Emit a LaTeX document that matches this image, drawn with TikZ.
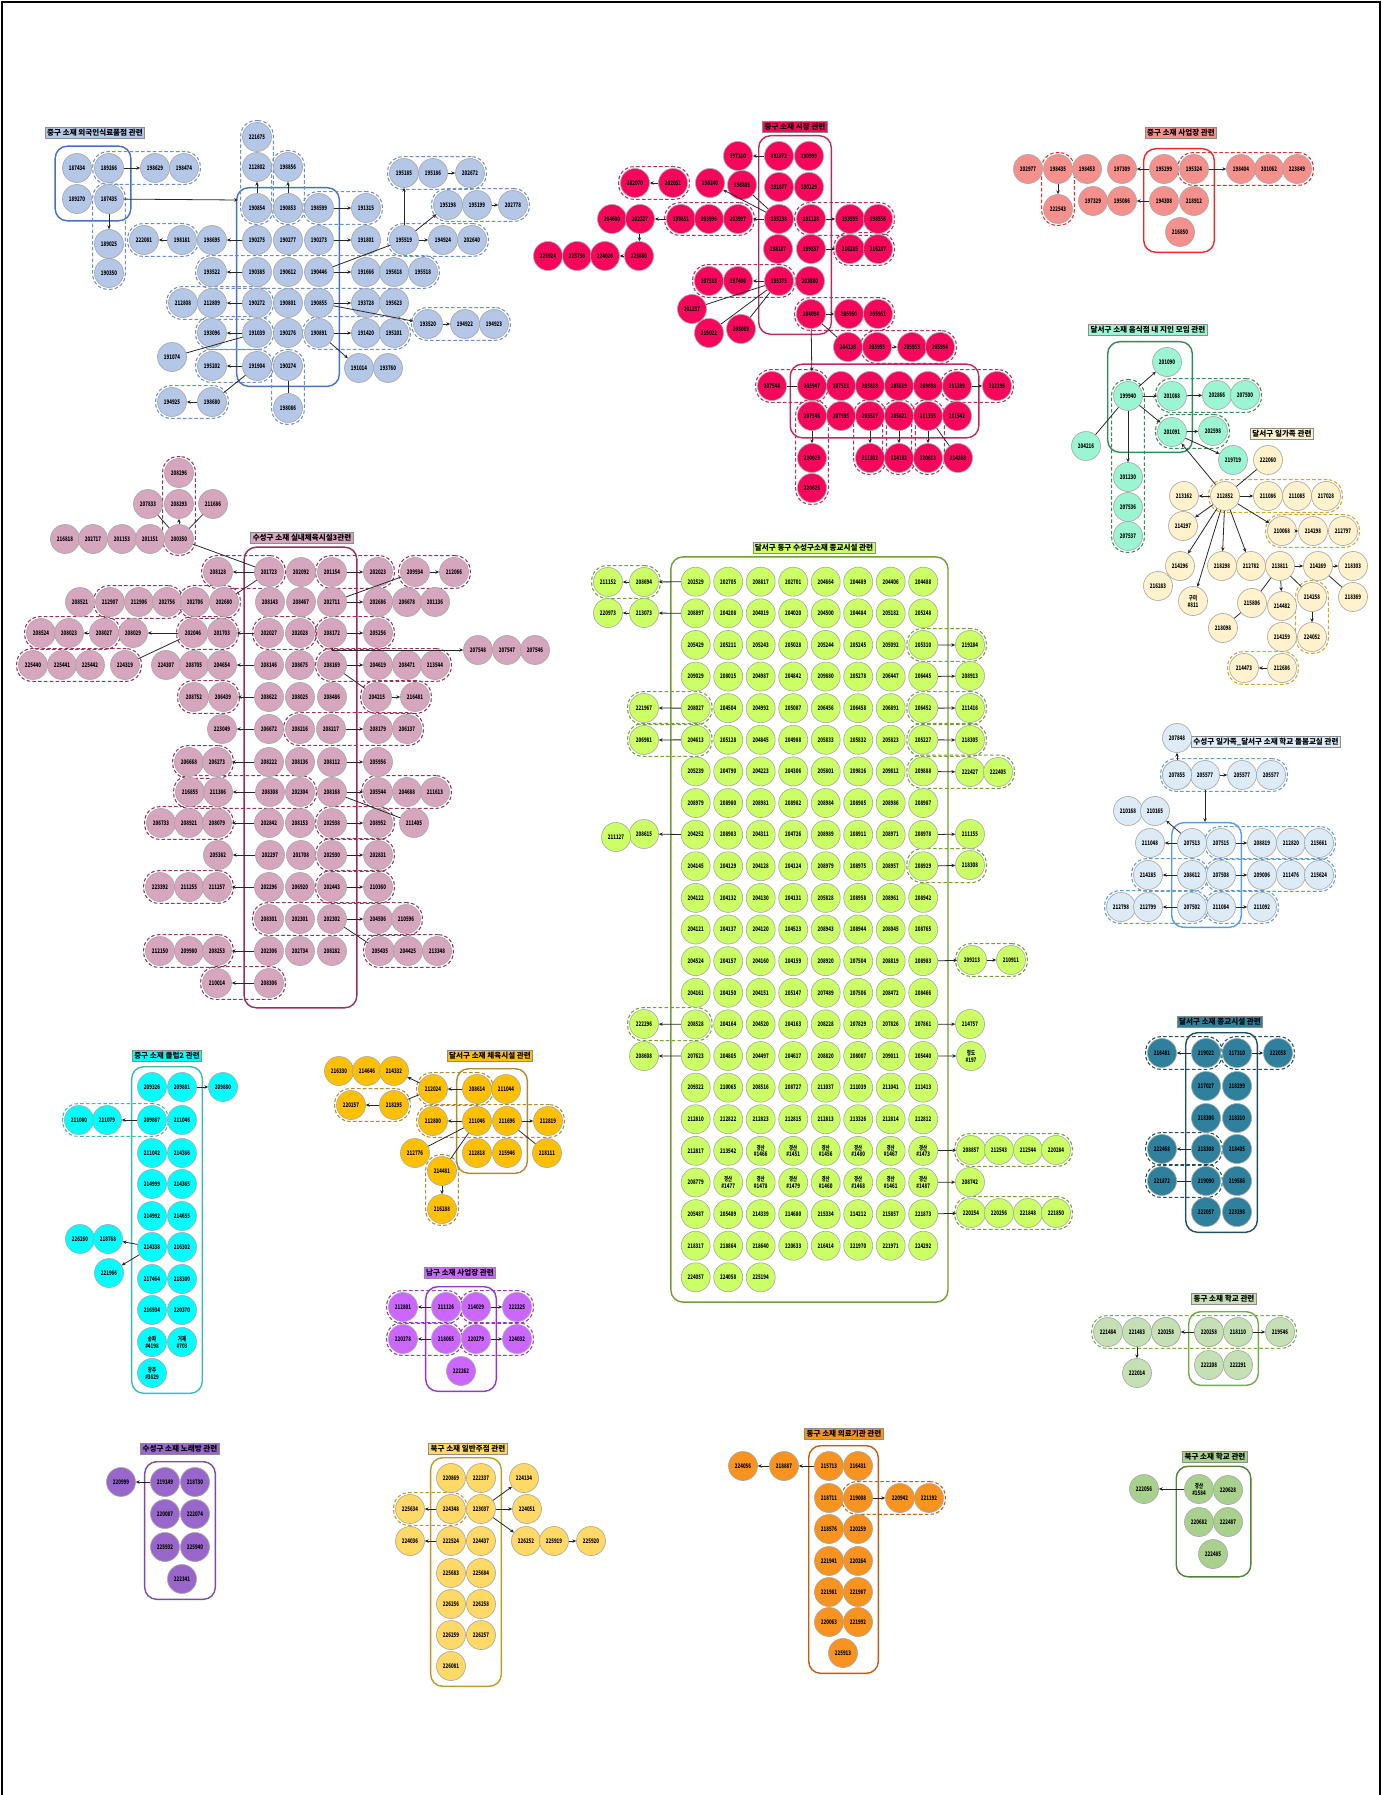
\documentclass[tikz,border=0pt]{standalone}
\usepackage{fontspec}
\usepackage{tikz}
\usetikzlibrary{arrows.meta, positioning, fit, backgrounds}
\setmainfont{Noto Sans CJK KR}
\newfontfamily\krfont{Noto Sans CJK KR}
\newfontfamily\nodefont[FakeStretch=0.7]{Noto Sans CJK KR}
\definecolor{cBlue}{HTML}{B4C7E7}
\definecolor{cBlueD}{HTML}{4472C4}
\definecolor{cRed}{HTML}{F5075C}
\definecolor{cRedD}{HTML}{C02860}
\definecolor{cSalm}{HTML}{F4918C}
\definecolor{cSalmD}{HTML}{F02828}
\definecolor{cAqua}{HTML}{9CF5D2}
\definecolor{cAquaD}{HTML}{2E8B57}
\definecolor{cFam}{HTML}{FFF2CC}
\definecolor{cFamD}{HTML}{D6A520}
\definecolor{cMauve}{HTML}{D5A6BD}
\definecolor{cMauveD}{HTML}{9B2D5E}
\definecolor{cLime}{HTML}{CCFF66}
\definecolor{cLimeD}{HTML}{70A030}
\definecolor{cSky}{HTML}{DDEBF7}
\definecolor{cSkyD}{HTML}{5B9BD5}
\definecolor{cTeal}{HTML}{2E809C}
\definecolor{cTealD}{HTML}{1F4E5F}
\definecolor{cCyan}{HTML}{00FFFF}
\definecolor{cCyanD}{HTML}{3CB8B8}
\definecolor{cGold}{HTML}{FFC000}
\definecolor{cGoldD}{HTML}{B08A30}
\definecolor{cViol}{HTML}{CC66FF}
\definecolor{cViolD}{HTML}{9933CC}
\definecolor{cMint}{HTML}{C5E0B4}
\definecolor{cMintD}{HTML}{70AD47}
\definecolor{cPlum}{HTML}{9966CC}
\definecolor{cPlumD}{HTML}{7A4BA8}
\definecolor{cButter}{HTML}{FFD966}
\definecolor{cButterD}{HTML}{C09A20}
\definecolor{cOrng}{HTML}{F7931E}
\definecolor{cOrngD}{HTML}{C55A11}
\definecolor{cLeaf}{HTML}{A9D18E}
\definecolor{cLeafD}{HTML}{548235}
\newcommand\gsan[1]{경산\\\##1}
\tikzset{
  cnode/.style={
    circle, draw=black!35, line width=0.35pt, minimum size=5.8mm, inner sep=0pt,
    align=center, font=\nodefont\bfseries\fontsize{3.6}{3.9}\selectfont
  },
  bnode/.style={cnode, fill=cBlue},
  rnode/.style={cnode, fill=cRed},
  snode/.style={cnode, fill=cSalm},
  anode/.style={cnode, fill=cAqua},
  fnode/.style={cnode, fill=cFam},
  mnode/.style={cnode, fill=cMauve},
  gnode/.style={cnode, fill=cLime},
  lnode/.style={cnode, fill=cSky},
  tnode/.style={cnode, fill=cTeal},
  cynode/.style={cnode, fill=cCyan},
  onode/.style={cnode, fill=cGold},
  pnode/.style={cnode, fill=cViol},
  hnode/.style={cnode, fill=cMint},
  nnode/.style={cnode, fill=cLeaf},
  knode/.style={cnode, fill=cPlum},
  jnode/.style={cnode, fill=cButter},
  qnode/.style={cnode, fill=cOrng},
  grpbox/.style={draw, rounded corners=2.4mm, line width=0.8pt, inner sep=1.1mm},
  dashgrp/.style={draw, dash pattern=on 2pt off 1.3pt, rounded corners=3mm, line width=0.6pt, inner sep=0.3mm},
  lnk/.style={-{Stealth[length=2.2pt,width=2pt]}, line width=0.45pt, black!85},
  tie/.style={line width=0.45pt, black!85},
  ttl/.style={draw=black!45, line width=0.4pt, inner sep=1.1pt, font=\krfont\bfseries\fontsize{4.3}{4.7}\selectfont}
}
\begin{document}
\begin{tikzpicture}[x=0.2mm, y=-0.2mm]
\useasboundingbox (0,0) rectangle (1382,1795);
\draw[line width=0.9pt] (2,1795) -- (2,2) -- (1380,2) -- (1380,1795);

% ---- 중구 소재 외국인식료품점
\node[ttl, fill=cBlue] (bT) at (95,133) {중구 소재 외국인식료품점 관련};
\foreach \x/\lab in {77/187434,109/189266,155/198629,184/198474} \node[bnode] (b\lab) at (\x,168) {\lab};
\foreach \x/\lab in {77/189270,109/187435} \node[bnode] (b\lab) at (\x,199) {\lab};
\node[bnode] (b189025) at (109,244) {189025};
\node[bnode] (b190350) at (109,273) {190350};
\node[bnode] (b221675) at (257,137) {221675};
\foreach \x/\lab in {257/212802,288/198856} \node[bnode] (b\lab) at (\x,167) {\lab};
\foreach \x/\lab in {404/195185,433/195186,470/202672} \node[bnode] (b\lab) at (\x,173) {\lab};
\foreach \x/\lab in {448/195198,477/195199,513/202778} \node[bnode] (b\lab) at (\x,205) {\lab};
\foreach \x/\lab in {257/190854,288/190853,319/198599,366/191315} \node[bnode] (b\lab) at (\x,208) {\lab};
\foreach \x/\lab in {144/222081,182/198181,212/198695,257/190275,288/190277,319/190273,366/191801,404/195519,443/194924,472/202640} \node[bnode] (b\lab) at (\x,240) {\lab};
\foreach \x/\lab in {212/193522,257/190385,288/190612,319/190446,366/191666,394/195618,423/195518} \node[bnode] (b\lab) at (\x,272) {\lab};
\foreach \x/\lab in {183/212808,212/212809,257/190272,288/190801,319/190855,366/193728,394/195623} \node[bnode] (b\lab) at (\x,303) {\lab};
\foreach \x/\lab in {428/193520,465/194922,494/194923} \node[bnode] (b\lab) at (\x,324) {\lab};
\foreach \x/\lab in {212/193096,257/191039,288/190276,319/190891,366/191420,394/195201} \node[bnode] (b\lab) at (\x,333) {\lab};
\node[bnode] (b191074) at (172,357) {191074};
\foreach \x/\lab in {212/195202,257/191904,288/190274} \node[bnode] (b\lab) at (\x,366) {\lab};
\foreach \x/\lab in {359/191014,388/193760} \node[bnode] (b\lab) at (\x,368) {\lab};
\foreach \x/\lab in {172/194925,212/198680} \node[bnode] (b\lab) at (\x,402) {\lab};
\node[bnode] (b198086) at (288,408) {198086};
\coordinate (bIn) at (238,200);
\draw[lnk] (b189266) -- (b198629);
\draw[lnk] (b187435) -- (bIn);
\draw[lnk] (b187435) -- (b189025);
\draw[lnk] (b190854) -- (b212802);
\draw[lnk] (b190853) -- (b198856);
\draw[lnk] (b198599) -- (b191315);
\draw[lnk] (b195186) -- (b202672);
\draw[lnk] (b195519) -- (b195185);
\draw[lnk] (b195519) -- (b195198);
\draw[lnk] (b195199) -- (b202778);
\draw[lnk] (b195519) -- (b194924);
\draw[lnk] (b198181) -- (b222081);
\draw[lnk] (b190275) -- (b198695);
\draw[lnk] (b190273) -- (b191801);
\draw[lnk] (b190385) -- (b193522);
\draw[lnk] (b190446) -- (b191666);
\draw[tie] (b190446) -- (b195519);
\draw[lnk] (b190272) -- (b212809);
\draw[lnk] (b190855) -- (b193728);
\draw[lnk] (b190855) -- (b193520);
\draw[lnk] (b193520) -- (b194922);
\draw[lnk] (b191039) -- (b193096);
\draw[tie] (b191039) -- (b191074);
\draw[lnk] (b190891) -- (b191420);
\draw[lnk] (b190891) -- (b191014);
\draw[lnk] (b191904) -- (b195202);
\draw[tie] (b191904) -- (b198680);
\draw[tie] (b190274) -- (b198086);
\draw[lnk] (b198680) -- (b194925);

% ---- 중구 소재 시장
\node[ttl, fill=cRed] (rT) at (795,127) {중구 소재 시장 관련};
\foreach \x/\lab in {738/197310,779/191872,809/190999} \node[rnode] (r\lab) at (\x,156) {\lab};
\foreach \x/\lab in {635/202070,673/202051,710/196240} \node[rnode] (r\lab) at (\x,183) {\lab};
\node[rnode] (r196805) at (742,185) {196805};
\foreach \x/\lab in {779/191877,809/190129} \node[rnode] (r\lab) at (\x,187) {\lab};
\foreach \x/\lab in {612/204600,640/202327,681/199851,709/203996,738/203997,779/195238,811/191128,850/193595,878/198556} \node[rnode] (r\lab) at (\x,219) {\lab};
\foreach \x/\lab in {778/198187,811/199857,850/216285,878/216287} \node[rnode] (r\lab) at (\x,249) {\lab};
\foreach \x/\lab in {548/225924,577/225756,605/224026,639/225880} \node[rnode] (r\lab) at (\x,256) {\lab};
\foreach \x/\lab in {709/207518,738/197406,779/195375,810/203880} \node[rnode] (r\lab) at (\x,281) {\lab};
\node[rnode] (r201237) at (692,309) {201237};
\node[rnode] (r215022) at (709,333) {215022};
\node[rnode] (r208089) at (741,329) {208089};
\foreach \x/\lab in {811/204094,849/205950,878/205951} \node[rnode] (r\lab) at (\x,314) {\lab};
\foreach \x/\lab in {848/204136,877/205955,912/205953,940/205954} \node[rnode] (r\lab) at (\x,347) {\lab};
\foreach \x/\lab in {772/207544,812/205947,841/207512,870/205818,899/205619,928/209698,957/211389,997/222296} \node[rnode] (r\lab) at (\x,386) {\lab};
\foreach \x/\lab in {812/207546,841/207595,870/205517,899/205621,928/211335,957/211542} \node[rnode] (r\lab) at (\x,416) {\lab};
\foreach \x/\lab in {812/220623,870/211302,899/214182,928/220613,958/214268} \node[rnode] (r\lab) at (\x,458) {\lab};
\node[rnode] (r220625) at (812,488) {220625};
\draw[lnk] (r191872) -- (r197310);
\draw[lnk] (r202051) -- (r202070);
\draw[lnk] (r195238) -- (r196240);
\draw[tie] (r196805) -- (r195238);
\draw[lnk] (r195238) -- (r203997);
\draw[lnk] (r199851) -- (r202327);
\draw[lnk] (r202327) -- (r225880);
\draw[lnk] (r225880) -- (r224026);
\draw[lnk] (r191128) -- (r193595);
\draw[lnk] (r199857) -- (r216285);
\draw[lnk] (r195375) -- (r197406);
\draw[tie] (r195375) -- (r201237);
\draw[tie] (r195375) -- (r215022);
\draw[tie] (r195375) -- (r208089);
\draw[lnk] (r204094) -- (r205950);
\draw[tie] (r204094) -- (r204136);
\draw[lnk] (r205955) -- (r205953);
\draw[lnk] (r204094) -- (r205947);
\draw[tie] (r207544) -- (r205947);
\draw[lnk] (r211389) -- (r222296);
\draw[lnk] (r207546) -- (r220623);
\draw[lnk] (r205517) -- (r211302);
\draw[lnk] (r205621) -- (r214182);
\draw[lnk] (r211335) -- (r220613);
\draw[tie] (r211335) -- (r214268);

% ---- 중구 소재 사업장
\node[ttl, fill=cSalm] (sT) at (1181,133) {중구 소재 사업장 관련};
\foreach \x/\lab in {1028/202977,1058/198435,1087/198453,1122/197309,1164/195299,1194/195324,1241/198404,1269/201062,1297/223849} \node[snode] (s\lab) at (\x,169) {\lab};
\foreach \x/\lab in {1093/197329,1122/195086,1164/194308,1194/218912} \node[snode] (s\lab) at (\x,201) {\lab};
\node[snode] (s222543) at (1058,209) {222543};
\node[snode] (s216850) at (1180,232) {216850};
\draw[lnk] (s195299) -- (s197309);
\draw[lnk] (s198435) -- (s222543);
\draw[lnk] (s195324) -- (s198404);
\draw[lnk] (s194308) -- (s195086);

% ---- 달서구 소재 음식점 내 지인 모임
\node[ttl, fill=cAqua] (aT) at (1148,330) {달서구 소재 음식점 내 지인 모임 관련};
\node[anode] (a201090) at (1167,362) {201090};
\node[anode] (a199940) at (1128,396) {199940};
\node[anode] (a201088) at (1172,396) {201088};
\node[anode] (a202866) at (1217,395) {202866};
\node[anode] (a207500) at (1245,395) {207500};
\node[anode] (a201091) at (1172,432) {201091};
\node[anode] (a202598) at (1213,431) {202598};
\node[anode] (a204216) at (1086,446) {204216};
\node[anode] (a219719) at (1233,460) {219719};
\node[anode] (a201230) at (1128,477) {201230};
\node[anode] (a207536) at (1128,507) {207536};
\node[anode] (a207537) at (1128,536) {207537};
\draw[lnk] (a199940) -- (a201090);
\draw[lnk] (a199940) -- (a201088);
\draw[lnk] (a199940) -- (a201091);
\draw[tie] (a199940) -- (a204216);
\draw[lnk] (a199940) -- (a201230);
\draw[lnk] (a201088) -- (a202866);
\draw[lnk] (a201091) -- (a202598);
\draw[lnk] (a201091) -- (a219719);

% ---- 달서구 일가족
\node[ttl, fill=cFam] (fT) at (1282,434) {달서구 일가족 관련};
\node[fnode] (f222060) at (1268,460) {222060};
\foreach \x/\lab in {1184/213162,1225/212852,1268/211086,1297/211085,1326/217028} \node[fnode] (f\lab) at (\x,496) {\lab};
\node[fnode] (f214297) at (1183,526) {214297};
\foreach \x/\lab in {1282/210068,1313/214298,1343/212797} \node[fnode] (f\lab) at (\x,531) {\lab};
\foreach \x/\lab in {1180/214296,1222/218298,1251/212782,1280/213811,1318/214269,1353/218303} \node[fnode] (f\lab) at (\x,566) {\lab};
\node[fnode] (f216283) at (1158,586) {216283};
\node[fnode] (fgumi) at (1193,601) {구미\\\#811};
\node[fnode] (f215806) at (1252,603) {215806};
\node[fnode] (f214482) at (1282,606) {214482};
\node[fnode] (f214258) at (1312,597) {214258};
\node[fnode] (f218369) at (1353,597) {218369};
\node[fnode] (f218098) at (1223,628) {218098};
\node[fnode] (f214259) at (1282,637) {214259};
\node[fnode] (f224052) at (1312,637) {224052};
\node[fnode] (f214473) at (1244,668) {214473};
\node[fnode] (f212686) at (1282,668) {212686};
\draw[lnk] (f212852) -- (a201091);
\draw[lnk] (f212852) -- (f213162);
\draw[lnk] (f212852) -- (f211086);
\draw[tie] (f212852) -- (f222060);
\draw[lnk] (f212852) -- (f214297);
\draw[lnk] (f212852) -- (f210068);
\draw[lnk] (f212852) -- (f214296);
\draw[lnk] (f212852) -- (fgumi);
\draw[lnk] (f212852) -- (f218298);
\draw[lnk] (f212852) -- (f212782);
\draw[lnk] (f210068) -- (f214298);
\draw[lnk] (f213811) -- (f214269);
\draw[lnk] (f214269) -- (f218303);
\draw[tie] (f214269) -- (f218369);
\draw[tie] (f213811) -- (f215806);
\draw[lnk] (f213811) -- (f214482);
\draw[tie] (f213811) -- (f214258);
\draw[tie] (f215806) -- (f218098);
\draw[lnk] (f214258) -- (f224052);
\draw[lnk] (f212686) -- (f214473);

% ---- 수성구 소재 실내체육시설3
\node[ttl, fill=cMauve] (mT) at (302,538) {수성구 소재 실내체육시설3관련};
\node[mnode] (m208296) at (179,473) {208296};
\foreach \x/\lab in {148/207833,179/208293,213/211686} \node[mnode] (m\lab) at (\x,504) {\lab};
\foreach \x/\lab in {65/216818,93/202717,122/201153,150/201151,179/200350} \node[mnode] (m\lab) at (\x,539) {\lab};
\foreach \x/\lab in {218/208128,269/201723,301/202092,332/201154,378/202023,415/209934,454/212066} \node[mnode] (m\lab) at (\x,572) {\lab};
\foreach \x/\lab in {80/208521,110/212907,139/212906,167/202756,195/202706,224/202680,270/208143,301/208467,332/202711,378/202686,407/206678,435/201136} \node[mnode] (m\lab) at (\x,602) {\lab};
\foreach \x/\lab in {41/208524,69/208023,104/208027,133/208029,193/202046,222/201703,269/202027,300/202028,332/208172,378/205256} \node[mnode] (m\lab) at (\x,633) {\lab};
\foreach \x/\lab in {478/207548,507/207547,535/207546} \node[mnode] (m\lab) at (\x,650) {\lab};
\foreach \x/\lab in {33/225440,62/225441,90/225442,125/224319,166/224307,194/208705,222/204654,269/208146,300/208675,332/208169,378/204619,407/208471,435/213544} \node[mnode] (m\lab) at (\x,665) {\lab};
\foreach \x/\lab in {194/208752,223/206439,269/208622,300/208025,332/208486,377/204215,415/216481} \node[mnode] (m\lab) at (\x,697) {\lab};
\foreach \x/\lab in {222/223049,269/206672,300/208216,331/208217,378/208179,407/206137} \node[mnode] (m\lab) at (\x,729) {\lab};
\foreach \x/\lab in {189/206668,217/206273,269/208222,300/208136,332/208112,378/205956} \node[mnode] (m\lab) at (\x,762) {\lab};
\foreach \x/\lab in {190/216855,218/211386,270/208308,300/202304,332/208168,378/205544,407/204688,435/211613} \node[mnode] (m\lab) at (\x,792) {\lab};
\foreach \x/\lab in {161/206733,189/208921,217/208079,269/202842,300/208153,332/202938,378/208952,414/211405} \node[mnode] (m\lab) at (\x,823) {\lab};
\foreach \x/\lab in {218/205382,270/202297,301/201708,332/202930,378/202831} \node[mnode] (m\lab) at (\x,855) {\lab};
\foreach \x/\lab in {160/223392,189/211255,217/211257,269/202296,300/206920,332/202443,378/210360} \node[mnode] (m\lab) at (\x,887) {\lab};
\foreach \x/\lab in {269/208301,300/202301,332/202302,378/204506,406/210596} \node[mnode] (m\lab) at (\x,919) {\lab};
\foreach \x/\lab in {160/212150,189/209980,217/208253,269/202306,300/202734,332/208282,380/205435,408/204425,437/213348} \node[mnode] (m\lab) at (\x,951) {\lab};
\foreach \x/\lab in {217/210014,269/208306} \node[mnode] (m\lab) at (\x,983) {\lab};
\draw[tie] (m200350) -- (m207833);
\draw[lnk] (m200350) -- (m208293);
\draw[tie] (m200350) -- (m211686);
\draw[tie] (m200350) -- (m201723);
\draw[lnk] (m201723) -- (m208128);
\draw[tie] (m201723) -- (m202680);
\draw[lnk] (m201154) -- (m202023);
\draw[lnk] (m209934) -- (m212066);
\draw[lnk] (m202711) -- (m202686);
\draw[tie] (m202711) -- (m209934);
\draw[lnk] (m208027) -- (m208023);
\draw[lnk] (m202046) -- (m208029);
\draw[tie] (m202046) -- (m224319);
\draw[lnk] (m202027) -- (m201703);
\draw[lnk] (m208172) -- (m205256);
\draw[lnk] (m208172) |- (m207548);
\draw[lnk] (m208146) -- (m204654);
\draw[lnk] (m208169) -- (m204619);
\draw[tie] (m208169) -- (m204215);
\draw[lnk] (m204215) -- (m216481);
\draw[lnk] (m208622) -- (m206439);
\draw[lnk] (m206672) -- (m223049);
\draw[lnk] (m208217) -- (m208179);
\draw[lnk] (m208222) -- (m206273);
\draw[lnk] (m208112) -- (m205956);
\draw[lnk] (m208308) -- (m211386);
\draw[lnk] (m208168) -- (m205544);
\draw[tie] (m208168) -- (m211405);
\draw[lnk] (m202842) -- (m208079);
\draw[lnk] (m202938) -- (m208952);
\draw[lnk] (m202297) -- (m205382);
\draw[lnk] (m202930) -- (m202831);
\draw[lnk] (m202296) -- (m211257);
\draw[lnk] (m202443) -- (m210360);
\draw[lnk] (m202302) -- (m204506);
\draw[tie] (m202302) -- (m205435);
\draw[lnk] (m202306) -- (m208253);
\draw[lnk] (m208306) -- (m210014);

% ---- 달서구 동구 수성구소재 종교시설
\node[ttl, fill=cLime] (gT) at (814,548) {달서구 동구 수성구소재 종교시설 관련};
\foreach \lbls [count=\ri] in {
  {202529,202705,208817,202701,204664,204489,204406,204488},
  {208897,204208,204019,204020,204500,204484,205182,205248},
  {205429,205211,205243,205028,205244,205245,205092,205310},
  {209029,208015,204987,204842,209880,205278,206447,206445},
  {208027,204504,204992,205087,206456,206458,206891,206452},
  {204613,205128,204845,204988,205833,205832,205823,205227},
  {205239,204790,204223,204306,205801,209816,209812,209888},
  {208979,208980,208981,208982,208984,208985,208986,208987},
  {204252,208983,204311,204726,208989,208911,208971,208978},
  {204145,204129,204128,204124,208979,208975,208957,208929},
  {204122,204132,204130,204131,205828,208958,208961,208942},
  {204121,204137,204120,204523,208943,208944,208045,208765},
  {204524,204157,204160,204159,208920,207504,208819,208983},
  {204161,204150,204151,205147,207489,207506,208472,208466},
  {208528,204164,204520,204163,208228,207829,207826,207861},
  {207623,204805,204497,204617,208820,208007,209011,205440},
  {209322,210065,208516,208727,211037,211039,211041,211413},
  {212810,212822,212823,212815,212813,213326,212814,212812},
  {212817,213542,\gsan{1466},\gsan{1451},\gsan{1456},\gsan{1480},\gsan{1467},\gsan{1473}},
  {208779,\gsan{1477},\gsan{1478},\gsan{1479},\gsan{1460},\gsan{1468},\gsan{1461},\gsan{1487}},
  {205487,205489,214339,214680,215334,214212,215857,221873},
  {218317,218864,218640,220633,216414,221970,221971,224292},
  {224057,224058,225194}}
  \foreach \lab [count=\ci] in \lbls
    \node[gnode] (g\ri-\ci) at ({663.2+32.5*\ci},{550.08+31.62*\ri}) {\lab};
\foreach \y/\lab in {582/211152,613/220973} \node[gnode] (g\lab) at (608,\y) {\lab};
\foreach \y/\lab in {582/208694,613/213073,708/221967,740/206981,834/208615,1024/222296,1056/208608} \node[gnode] (g\lab) at (644,\y) {\lab};
\node[gnode] (g211127) at (616,837) {211127};
\foreach \y/\lab in {645/219284,676/208913,708/211416,740/218305,772/222427,834/211155,865/218308,1024/214757,1182/208742} \node[gnode] (g\lab) at (970,\y) {\lab};
\node[gnode] (g222405) at (998,772) {222405};
\node[gnode] (g209213) at (972,960) {209213};
\node[gnode] (g210911) at (1011,960) {210911};
\node[gnode] (gcheongdo) at (971,1056) {청도\\\#197};
\foreach \x/\lab in {971/208857,999/212543,1028/212544,1056/220284} \node[gnode] (g\lab) at (\x,1150) {\lab};
\foreach \x/\lab in {971/220254,999/220256,1028/221848,1056/221850} \node[gnode] (g\lab) at (\x,1213) {\lab};
\draw[lnk] (g1-1) -- (g208694);
\draw[lnk] (g208694) -- (g211152);
\draw[lnk] (g2-1) -- (g213073);
\draw[lnk] (g213073) -- (g220973);
\draw[lnk] (g5-1) -- (g221967);
\draw[lnk] (g6-1) -- (g206981);
\draw[lnk] (g9-1) -- (g208615);
\draw[lnk] (g15-1) -- (g222296);
\draw[lnk] (g16-1) -- (g208608);
\draw[lnk] (g3-8) -- (g219284);
\draw[lnk] (g4-8) -- (g208913);
\draw[lnk] (g5-8) -- (g211416);
\draw[lnk] (g6-8) -- (g218305);
\draw[lnk] (g7-8) -- (g222427);
\draw[lnk] (g9-8) -- (g211155);
\draw[lnk] (g10-8) -- (g218308);
\draw[lnk] (g13-8) -- (g209213);
\draw[lnk] (g209213) -- (g210911);
\draw[lnk] (g15-8) -- (g214757);
\draw[lnk] (g16-8) -- (gcheongdo);
\draw[lnk] (g19-8) -- (g208857);
\draw[lnk] (g20-8) -- (g208742);
\draw[lnk] (g21-8) -- (g220254);

% ---- 수성구 일가족_달서구 소재 학교 돌봄교실
\node[ttl, fill=cSky] (lT) at (1266,742) {수성구 일가족\_달서구 소재 학교 돌봄교실 관련};
\node[lnode] (l207848) at (1177,738) {207848};
\foreach \x/\lab in {1177/207855,1205/205577a,1242/205577b,1271/205577c} \node[lnode] (l\lab) at (\x,775) {205577};
\node[lnode] at (l207855) {207855};
\foreach \x/\lab in {1128/210168,1155/210165} \node[lnode] (l\lab) at (\x,811) {\lab};
\foreach \x/\lab in {1150/211048,1192/207513,1221/207515,1262/208819,1291/212820,1319/215661} \node[lnode] (l\lab) at (\x,843) {\lab};
\foreach \x/\lab in {1148/214285,1192/208612,1221/207508,1262/209006,1291/211476,1319/215624} \node[lnode] (l\lab) at (\x,875) {\lab};
\foreach \x/\lab in {1121/212798,1148/212799,1192/207502,1221/211084,1262/211092} \node[lnode] (l\lab) at (\x,907) {\lab};
\coordinate (lIn) at (1205,822);
\draw[lnk] (l207855) -- (l207848);
\draw[lnk] (l205577a) -- (l205577b);
\draw[lnk] (l205577a) -- (lIn);
\draw[lnk] (l207513) -- (l210165);
\draw[lnk] (l207513) -- (l211048);
\draw[lnk] (l207515) -- (l208819);
\draw[lnk] (l208612) -- (l214285);
\draw[lnk] (l207508) -- (l209006);
\draw[lnk] (l207502) -- (l212799);
\draw[lnk] (l211084) -- (l211092);

% ---- 달서구 소재 종교시설
\node[ttl, fill=cTeal] (tT) at (1220,1022) {달서구 소재 종교시설 관련};
\foreach \x/\lab in {1162/216481,1206/219022,1237/217310,1278/222058} \node[tnode] (t\lab) at (\x,1053) {\lab};
\foreach \x/\lab in {1206/217027,1237/218299} \node[tnode] (t\lab) at (\x,1086) {\lab};
\foreach \x/\lab in {1206/218306,1237/218310} \node[tnode] (t\lab) at (\x,1118) {\lab};
\foreach \x/\lab in {1162/222468,1206/218308,1237/218405} \node[tnode] (t\lab) at (\x,1149) {\lab};
\foreach \x/\lab in {1162/221872,1206/219090,1237/219586} \node[tnode] (t\lab) at (\x,1181) {\lab};
\foreach \x/\lab in {1206/222057,1237/223298} \node[tnode] (t\lab) at (\x,1212) {\lab};
\draw[lnk] (t219022) -- (t216481);
\draw[lnk] (t217310) -- (t222058);
\draw[lnk] (t218308) -- (t222468);
\draw[tie] (t219090) -- (t221872);

% ---- 중구 소재 클럽2
\node[ttl, fill=cCyan] (cT) at (167,1056) {중구 소재 클럽2 관련};
\foreach \x/\lab in {152/209326,182/209881,223/209880} \node[cynode] (c\lab) at (\x,1087) {\lab};
\foreach \x/\lab in {79/211080,107/211079,152/209867,182/211046} \node[cynode] (c\lab) at (\x,1120) {\lab};
\foreach \x/\lab in {152/211042,182/214366} \node[cynode] (c\lab) at (\x,1153) {\lab};
\foreach \x/\lab in {152/214999,182/214365} \node[cynode] (c\lab) at (\x,1184) {\lab};
\foreach \x/\lab in {152/214992,182/214655} \node[cynode] (c\lab) at (\x,1216) {\lab};
\foreach \x/\lab in {80/226260,108/218768} \node[cynode] (c\lab) at (\x,1239) {\lab};
\foreach \x/\lab in {152/214338,182/216302} \node[cynode] (c\lab) at (\x,1247) {\lab};
\node[cynode] (c221966) at (109,1273) {221966};
\foreach \x/\lab in {152/217464,182/218300} \node[cynode] (c\lab) at (\x,1279) {\lab};
\foreach \x/\lab in {152/216934,182/220370} \node[cynode] (c\lab) at (\x,1310) {\lab};
\node[cynode] (csongpa) at (152,1342) {송파\\\#4198};
\node[cynode] (cgeoje) at (182,1342) {거제\\\#703};
\node[cynode] (cgwangju) at (152,1373) {광주\\\#3629};
\draw[lnk] (c209881) -- (c209880);
\draw[lnk] (c209867) -- (c211079);
\draw[lnk] (c214338) -- (c218768);
\draw[lnk] (c214338) -- (c221966);

% ---- 달서구 소재 체육시설
\node[ttl, fill=cGold] (oT) at (490,1056) {달서구 소재 체육시설 관련};
\foreach \x/\lab in {339/216330,367/214646,394/214332} \node[onode] (o\lab) at (\x,1071) {\lab};
\foreach \x/\lab in {433/212024,477/208614,506/211044} \node[onode] (o\lab) at (\x,1089) {\lab};
\foreach \x/\lab in {351/220257,394/218295} \node[onode] (o\lab) at (\x,1105) {\lab};
\foreach \x/\lab in {433/212800,477/211046,507/211696,548/212819} \node[onode] (o\lab) at (\x,1121) {\lab};
\foreach \x/\lab in {415/212776,477/212818,507/215946,547/218111} \node[onode] (o\lab) at (\x,1153) {\lab};
\node[onode] (o214481) at (442,1171) {214481};
\node[onode] (o216288) at (442,1209) {216288};
\draw[lnk] (o212024) -- (o214332);
\draw[tie] (o218295) -- (o212024);
\draw[lnk] (o208614) -- (o212024);
\draw[lnk] (o218295) -- (o220257);
\draw[lnk] (o211046) -- (o212800);
\draw[lnk] (o211696) -- (o212819);
\draw[tie] (o211696) -- (o218111);
\draw[tie] (o211046) -- (o212776);
\draw[tie] (o211046) -- (o214481);
\draw[lnk] (o214481) -- (o216288);

% ---- 남구 소재 사업장
\node[ttl, fill=cViol] (pT) at (460,1273) {남구 소재 사업장 관련};
\foreach \x/\lab in {403/212801,446/211126,476/214029,517/222225} \node[pnode] (p\lab) at (\x,1307) {\lab};
\foreach \x/\lab in {403/220278,446/218065,476/220279,517/224032} \node[pnode] (p\lab) at (\x,1339) {\lab};
\node[pnode] (p222262) at (461,1371) {222262};
\draw[lnk] (p211126) -- (p212801);
\draw[lnk] (p214029) -- (p222225);
\draw[lnk] (p218065) -- (p220278);
\draw[lnk] (p220279) -- (p224032);

% ---- 동구 소재 학교
\node[ttl, fill=cMint] (hT) at (1224,1299) {동구 소재 학교 관련};
\foreach \x/\lab in {1108/221484,1137/221483,1166/220258a,1209/220258b,1238/218110,1280/219546} \node[hnode] (h\lab) at (\x,1332) {\lab};
\node[hnode] at (h220258a) {220258};
\node[hnode] at (h220258b) {220258};
\node[hnode] (h222014) at (1137,1373) {222014};
\foreach \x/\lab in {1209/222208,1238/222291} \node[hnode] (h\lab) at (\x,1365) {\lab};
\draw[lnk] (h220258b) -- (h220258a);
\draw[lnk] (h218110) -- (h219546);
\draw[lnk] (h221483) -- (h222014);

% ---- 북구 소재 학교
\node[ttl, fill=cLeaf] (nT) at (1215,1457) {북구 소재 학교 관련};
\node[nnode] (n222056) at (1144,1489) {222056};
\node[nnode] (ngsan) at (1199,1489) {경산\\\#1584};
\node[nnode] (n220628) at (1228,1490) {220628};
\node[nnode] (n220682) at (1199,1522) {220682};
\node[nnode] (n222487) at (1228,1522) {222487};
\node[nnode] (n222485) at (1213,1554) {222485};
\draw[lnk] (ngsan) -- (n222056);

% ---- 수성구 소재 노래방
\node[ttl, fill=cPlum] (kT) at (180,1449) {수성구 소재 노래방 관련};
\foreach \x/\lab in {121/220999,165/219149,195/218730} \node[knode] (k\lab) at (\x,1482) {\lab};
\foreach \x/\lab in {165/220087,195/222074} \node[knode] (k\lab) at (\x,1514) {\lab};
\foreach \x/\lab in {165/225932,195/225940} \node[knode] (k\lab) at (\x,1547) {\lab};
\node[knode] (k222341) at (182,1579) {222341};
\draw[lnk] (k219149) -- (k220999);

% ---- 북구 소재 일반주점
\node[ttl, fill=cButter] (jT) at (468,1449) {북구 소재 일반주점 관련};
\foreach \x/\lab in {451/220869,481/222337,524/224134} \node[jnode] (j\lab) at (\x,1478) {\lab};
\foreach \x/\lab in {410/225634,451/224348,481/223037,527/224051} \node[jnode] (j\lab) at (\x,1509) {\lab};
\foreach \x/\lab in {410/224036,451/222524,481/224437,526/226252,554/225919,591/225920} \node[jnode] (j\lab) at (\x,1541) {\lab};
\foreach \x/\lab in {451/225683,481/225684} \node[jnode] (j\lab) at (\x,1573) {\lab};
\foreach \x/\lab in {451/226256,481/226258} \node[jnode] (j\lab) at (\x,1604) {\lab};
\foreach \x/\lab in {451/226259,481/226257} \node[jnode] (j\lab) at (\x,1635) {\lab};
\node[jnode] (j226081) at (451,1666) {226081};
\draw[lnk] (j224348) -- (j225634);
\draw[lnk] (j223037) -- (j224134);
\draw[lnk] (j223037) -- (j224051);
\draw[lnk] (j223037) -- (j226252);
\draw[lnk] (j222524) -- (j224036);
\draw[lnk] (j225919) -- (j225920);

% ---- 동구 소재 의료기관
\node[ttl, fill=cOrng] (qT) at (844,1434) {동구 소재 의료기관 관련};
\foreach \x/\lab in {743/224056,784/218887,829/215713,858/216431} \node[qnode] (q\lab) at (\x,1466) {\lab};
\foreach \x/\lab in {829/218711,858/219008,900/220942,929/221192} \node[qnode] (q\lab) at (\x,1498) {\lab};
\foreach \x/\lab in {829/218576,858/220259} \node[qnode] (q\lab) at (\x,1529) {\lab};
\foreach \x/\lab in {829/221941,858/220264} \node[qnode] (q\lab) at (\x,1561) {\lab};
\foreach \x/\lab in {829/221981,858/221987} \node[qnode] (q\lab) at (\x,1592) {\lab};
\foreach \x/\lab in {829/220063,858/221992} \node[qnode] (q\lab) at (\x,1622) {\lab};
\node[qnode] (q225913) at (843,1653) {225913};
\draw[lnk] (q215713) -- (q218887);
\draw[lnk] (q218887) -- (q224056);
\draw[lnk] (q219008) -- (q220942);

% ---- groups
\begin{scope}[on background layer]
  % solid groups
  \node[grpbox, draw=cBlueD, inner sep=1.4mm, fit=(b187434)(b187435)] {};
  \node[grpbox, draw=cBlueD, fit=(b190854)(b190891)(b191904)] {};
  \node[grpbox, draw=cRedD, fit=(r191872)(r190999)(r204094)] {};
  \node[grpbox, draw=cRedD, inner sep=1.4mm, fit=(r205947)(r211542)] {};
  \node[grpbox, draw=cSalmD, fit=(s195299)(s218912)(s216850)] {};
  \node[grpbox, draw=cAquaD, fit=(a199940)(a201090)(a201091)] {};
  \node[grpbox, draw=cMauveD, inner sep=2mm, fit=(m201723)(m201154)(m208306)] {};
  \node[grpbox, draw=cLimeD, inner sep=2mm, fit=(g1-1)(g1-8)(g23-1)] {};
  \node[grpbox, draw=cSkyD, fit=(l207513)(l211084)] {};
  \node[grpbox, draw=cTealD, fit=(t219022)(t223298)] {};
  \node[grpbox, draw=cCyanD, fit=(c209326)(c220370)(cgwangju)] {};
  \node[grpbox, draw=cGoldD, fit=(o208614)(o215946)] {};
  \node[grpbox, draw=cViolD, fit=(p211126)(p220279)(p222262)] {};
  \node[grpbox, draw=cMintD, fit=(h220258b)(h222291)] {};
  \node[grpbox, draw=cLeafD, inner sep=1.6mm, fit=(ngsan)(n220628)(n222485)] {};
  \node[grpbox, draw=cPlumD, fit=(k219149)(k218730)(k222341)] {};
  \node[grpbox, draw=cButterD, fit=(j220869)(j222337)(j226081)] {};
  \node[grpbox, draw=cOrngD, fit=(q215713)(q216431)(q225913)] {};
  % dashed groups
  \foreach \a/\b in {b189266/b198474, b187435/b190350, b221675/b190854, b198856/b190853, b198599/b191315,
      b195185/b202672, b195198/b202778, b222081/b198181, b195519/b202640, b193522/b195518,
      b212808/b190272, b193520/b194923, b193096/b191039, b190891/b195201, b195202/b191904,
      b190274/b198086, b194925/b198680}
    \node[dashgrp, draw=cBlueD!80, fit=(\a)(\b)] {};
  \foreach \a/\b in {r202070/r202051, r199851/r203997, r191128/r198556, r216285/r216287, r207518/r195375,
      r204094/r205951, r205955/r205954, r207544/r205947, r211389/r222296, r207546/r220625,
      r205517/r211302, r205621/r214182, r211335/r220613}
    \node[dashgrp, draw=cRedD, fit=(\a)(\b)] {};
  \foreach \a/\b in {s198435/s222543, s195324/s223849}
    \node[dashgrp, draw=cSalmD, fit=(\a)(\b)] {};
  \foreach \a/\b in {a199940/a207537, a201088/a207500, a201091/a202598}
    \node[dashgrp, draw=cAquaD, fit=(\a)(\b)] {};
  \foreach \a/\b in {f212852/f217028, f210068/f212797, f214258/f224052, f214473/f212686}
    \node[dashgrp, draw=cFamD, fit=(\a)(\b)] {};
  \foreach \a/\b in {m208296/m200350, m208128/m201723, m201154/m202023, m209934/m212066, m212907/m202756,
      m202706/m202680, m208524/m208027, m202046/m201703, m202027/m202028, m208172/m205256,
      m225440/m224319, m208169/m213544, m208752/m206439, m204215/m216481, m208216/m206137,
      m206668/m206273, m216855/m202304, m205544/m211613, m206733/m208079, m202938/m208952,
      m202930/m202831, m223392/m211257, m202443/m210360, m208301/m210596, m212150/m208253,
      m205435/m213348, m210014/m208306}
    \node[dashgrp, draw=cMauveD, fit=(\a)(\b)] {};
  \foreach \a/\b in {g211152/g208694, g221967/g5-1, g206981/g6-1, g222296/g15-1, g3-8/g219284,
      g5-8/g211416, g6-8/g218305, g7-8/g222405, g10-8/g218308, g209213/g210911,
      g208857/g220284, g220254/g221850}
    \node[dashgrp, draw=cLimeD, fit=(\a)(\b)] {};
  \foreach \a/\b in {l207855/l205577c, l207515/l215661, l214285/l208612, l207508/l215624,
      l212798/l207502, l211084/l211092}
    \node[dashgrp, draw=cSkyD, fit=(\a)(\b)] {};
  \foreach \a/\b in {t216481/t219022, t217310/t222058, t222468/t218308, t221872/t219090}
    \node[dashgrp, draw=cTealD, fit=(\a)(\b)] {};
  \node[dashgrp, draw=cCyanD, fit=(c211080)(c209867)] {};
  \foreach \a/\b in {o212024/o208614, o220257/o218295, o212800/o212819, o214481/o216288}
    \node[dashgrp, draw=cGoldD, fit=(\a)(\b)] {};
  \foreach \a/\b in {p212801/p211126, p214029/p222225, p220278/p218065, p220279/p224032}
    \node[dashgrp, draw=cViolD, fit=(\a)(\b)] {};
  \node[dashgrp, draw=cMintD, fit=(h221484)(h219546)] {};
  \node[dashgrp, draw=cButterD, fit=(j225634)(j224348)] {};
  \node[dashgrp, draw=cOrngD, fit=(q219008)(q221192)] {};
\end{scope}
\end{tikzpicture}
\end{document}
